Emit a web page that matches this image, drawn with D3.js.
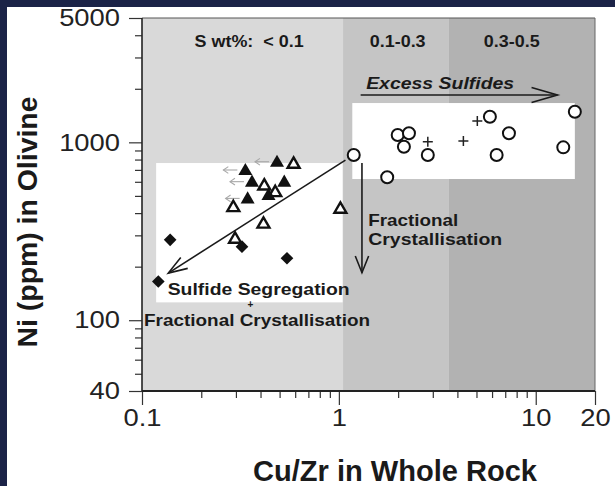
<!DOCTYPE html>
<html><head><meta charset="utf-8">
<script src="https://cdn.jsdelivr.net/npm/d3@7"></script>
<style>html,body{margin:0;padding:0;background:#1b2347;} svg{display:block}</style>
</head><body>
<svg id="c" width="615" height="486"></svg>
<script>
// ---------- data ----------
const xTickValues = [0.1, 1, 10, 20];
const xTickLabels = ["0.1", "1", "10", "20"];
const xMinorTicks = [0.2, 0.3, 0.4, 0.5, 0.6, 0.7, 0.8, 0.9, 2, 3, 4, 5, 6, 7, 8, 9];
const yTickValues = [40, 100, 1000, 5000];
const yTickLabels = ["40", "100", "1000", "5000"];
const yMinorTicks = [50, 60, 70, 80, 90, 200, 300, 400, 500, 600, 700, 800, 900, 2000, 3000, 4000];

const zoneBounds = [0.1, 1.05, 3.6, 20];
const zoneLabels = ["S wt%:  < 0.1", "0.1-0.3", "0.3-0.5"];
const zoneLabelX = [0.35, 1.99, 7.55];

const boxX0 = [0.118, 1.17];
const boxX1 = [1.045, 15.8];
const boxYTop = [765, 1663];
const boxYBottom = [126, 622];

const circleX = [1.19, 1.76, 1.99, 2.27, 2.14, 2.83, 5.85, 7.31, 6.33, 13.8, 15.8];
const circleY = [849, 636, 1099, 1124, 945, 849, 1393, 1124, 849, 937, 1486];
const plusX = [2.83, 4.29, 5.05];
const plusY = [1008, 1017, 1317];
const filledTriX = [0.485, 0.335, 0.362, 0.439, 0.528, 0.344];
const filledTriY = [778, 699, 601, 506, 601, 484];
const filledTriUpperLimit = [true, true, true, false, false, true];
const openTriX = [0.589, 0.418, 0.475, 0.291, 0.414, 1.018, 0.297];
const openTriY = [762, 575, 528, 435, 351, 426, 289];
const diamondX = [0.139, 0.322, 0.545, 0.121];
const diamondY = [283, 259, 223, 165];

const arrowX1 = [1.08, 1.31, 1.29];
const arrowY1 = [795, 765, 1845];
const arrowX2 = [0.136, 1.31, 12.9];
const arrowY2 = [184, 185, 1845];

const xTitle = "Cu/Zr in Whole Rock";
const yTitle = "Ni (ppm) in Olivine";

// ---------- drawing ----------
const FONT = "'Liberation Sans', Arial, Helvetica, sans-serif";
const W = 615, H = 486;
const svg = d3.select("#c");
svg.append("rect").attr("width", W).attr("height", H).attr("fill", "#1b2347");
svg.append("rect").attr("x", 7).attr("y", 7).attr("width", W - 7).attr("height", H - 7).attr("fill", "#ffffff");

const x = d3.scaleLog().domain([0.1, 20]).range([142, 595]);
const y = d3.scaleLog().domain([40, 5000]).range([391, 18]);

const zoneColors = ["#d9d9d9", "#c5c5c5", "#b2b2b2"];
svg.append("g").selectAll("rect").data(zoneLabels).join("rect")
  .attr("x", (d, i) => x(zoneBounds[i]))
  .attr("width", (d, i) => x(zoneBounds[i + 1]) - x(zoneBounds[i]))
  .attr("y", y(5000)).attr("height", y(40) - y(5000))
  .attr("fill", (d, i) => zoneColors[i]);

svg.append("g").selectAll("rect").data(boxX0).join("rect")
  .attr("x", (d, i) => x(boxX0[i]))
  .attr("width", (d, i) => x(boxX1[i]) - x(boxX0[i]))
  .attr("y", (d, i) => y(boxYTop[i]))
  .attr("height", (d, i) => y(boxYBottom[i]) - y(boxYTop[i]))
  .attr("fill", "#ffffff");

function stretch(sel, k) {
  sel.each(function () {
    const l = this.getComputedTextLength();
    d3.select(this).attr("textLength", l * k).attr("lengthAdjust", "spacingAndGlyphs");
  });
}

// zone labels
const zl = svg.append("g").selectAll("text").data(zoneLabels).join("text")
  .attr("x", (d, i) => x(zoneLabelX[i])).attr("y", 47)
  .attr("text-anchor", "middle").attr("font-family", FONT).attr("font-weight", "bold")
  .attr("font-size", 16).attr("fill", "#1a1a1a").style("white-space", "pre")
  .text(d => d);
stretch(zl, 1.12);

// borders
svg.append("line").attr("x1", x(0.1)).attr("x2", x(20)).attr("y1", y(5000)).attr("y2", y(5000)).attr("stroke", "#555").attr("stroke-width", 1);
svg.append("line").attr("x1", x(20)).attr("x2", x(20)).attr("y1", y(5000)).attr("y2", y(40)).attr("stroke", "#666").attr("stroke-width", 1);

// axes
const gy = svg.append("g").attr("transform", `translate(${x(0.1)},0)`);
gy.append("g").call(d3.axisLeft(y).tickValues(yMinorTicks).tickSize(7).tickFormat(""))
  .call(g => g.select(".domain").remove());
gy.append("g").call(d3.axisLeft(y).tickValues(yTickValues).tickSize(13).tickPadding(9)
  .tickFormat((d, i) => yTickLabels[i]))
  .call(g => g.select(".domain").remove());
const gx = svg.append("g").attr("transform", `translate(0,${y(40)})`);
gx.append("g").call(d3.axisBottom(x).tickValues(xMinorTicks).tickSize(7).tickFormat(""))
  .call(g => g.select(".domain").remove());
gx.append("g").call(d3.axisBottom(x).tickValues(xTickValues).tickSize(14).tickPadding(4)
  .tickFormat((d, i) => xTickLabels[i]))
  .call(g => g.select(".domain").remove());
svg.selectAll(".tick line").attr("stroke", "#333").attr("stroke-width", 1.2);
const tickTexts = svg.selectAll(".tick text").attr("font-family", FONT).attr("font-size", 24).attr("fill", "#222");
stretch(tickTexts, 1.14);

svg.append("line").attr("x1", x(0.1)).attr("x2", x(0.1)).attr("y1", y(5000)).attr("y2", y(40)).attr("stroke", "#222").attr("stroke-width", 1.6);
svg.append("line").attr("x1", x(0.1)).attr("x2", x(20)).attr("y1", y(40)).attr("y2", y(40)).attr("stroke", "#222").attr("stroke-width", 2);

// titles
svg.append("text").attr("x", 395).attr("y", 481)
  .attr("text-anchor", "middle").attr("font-family", FONT).attr("font-weight", "bold")
  .attr("font-size", 29).attr("fill", "#1a1a1a").attr("textLength", 284).attr("lengthAdjust", "spacingAndGlyphs")
  .text(xTitle);
svg.append("text").attr("transform", "translate(37,222) rotate(-90)")
  .attr("text-anchor", "middle").attr("font-family", FONT).attr("font-weight", "bold")
  .attr("font-size", 28).attr("fill", "#1a1a1a").attr("textLength", 251).attr("lengthAdjust", "spacingAndGlyphs")
  .text(yTitle);

// arrows
const ann = svg.append("g");
function arrow(x1, y1, x2, y2, len, ang, color, w) {
  const a = Math.atan2(y1 - y2, x1 - x2);
  ann.append("line").attr("x1", x1).attr("y1", y1).attr("x2", x2).attr("y2", y2)
    .attr("stroke", color).attr("stroke-width", w);
  const pts = [[x2 + len * Math.cos(a + ang), y2 + len * Math.sin(a + ang)], [x2, y2],
               [x2 + len * Math.cos(a - ang), y2 + len * Math.sin(a - ang)]];
  ann.append("path").attr("d", d3.line()(pts)).attr("fill", "none")
    .attr("stroke", color).attr("stroke-width", w);
}
const heads = [[20, 0.33], [18, 0.38], [27, 0.28]];
arrowX1.forEach((d, i) => arrow(x(arrowX1[i]), y(arrowY1[i]), x(arrowX2[i]), y(arrowY2[i]), heads[i][0], heads[i][1], "#1a1a1a", 1.6));

// upper-limit grey arrows
filledTriX.forEach((d, i) => {
  if (!filledTriUpperLimit[i]) return;
  const px = x(filledTriX[i]), py = y(filledTriY[i]);
  arrow(px - 8, py, px - 22, py, 6, 0.6, "#a8a8a8", 1.1);
});

// annotation texts
function label(txt, xv, yv, anchor, size, italic, len) {
  const t = ann.append("text").attr("x", x(xv)).attr("y", y(yv)).attr("text-anchor", anchor)
    .attr("font-family", FONT).attr("font-weight", "bold").attr("font-size", size)
    .attr("font-style", italic ? "italic" : "normal").attr("fill", "#1a1a1a").text(txt);
  if (len) t.attr("textLength", len).attr("lengthAdjust", "spacingAndGlyphs");
  return t;
}
label("Excess Sulfides", 3.27, 1990, "middle", 17, true, 148);
label("Fractional", 1.41, 339, "start", 17, false, 90);
label("Crystallisation", 1.41, 265, "start", 17, false, 134);
label("Sulfide Segregation", 0.135, 139, "start", 17, false, 182);
label("+", 0.355, 117, "middle", 10, false, null);
label("Fractional Crystallisation", 0.1024, 92.9, "start", 17, false, 226);

// markers
const mk = svg.append("g");
mk.selectAll("path.d").data(diamondX).join("path")
  .attr("transform", (d, i) => `translate(${x(diamondX[i])},${y(diamondY[i])}) rotate(45)`)
  .attr("d", d3.symbol(d3.symbolSquare, 80)).attr("fill", "#111");
mk.selectAll("path.ot").data(openTriX).join("path")
  .attr("transform", (d, i) => `translate(${x(openTriX[i])},${y(openTriY[i]) + 1})`)
  .attr("d", d3.symbol(d3.symbolTriangle, 62)).attr("fill", "#fff").attr("stroke", "#111").attr("stroke-width", 2.4);
mk.selectAll("path.ft").data(filledTriX).join("path")
  .attr("transform", (d, i) => `translate(${x(filledTriX[i])},${y(filledTriY[i]) + 1})`)
  .attr("d", d3.symbol(d3.symbolTriangle, 85)).attr("fill", "#111");
mk.selectAll("circle").data(circleX).join("circle")
  .attr("cx", (d, i) => x(circleX[i])).attr("cy", (d, i) => y(circleY[i])).attr("r", 6)
  .attr("fill", "#fff").attr("stroke", "#111").attr("stroke-width", 2);
mk.selectAll("path.p").data(plusX).join("path")
  .attr("transform", (d, i) => `translate(${x(plusX[i])},${y(plusY[i])})`)
  .attr("d", "M-5,0H5M0,-5V5").attr("stroke", "#222").attr("stroke-width", 1.5);
</script>
</body></html>
